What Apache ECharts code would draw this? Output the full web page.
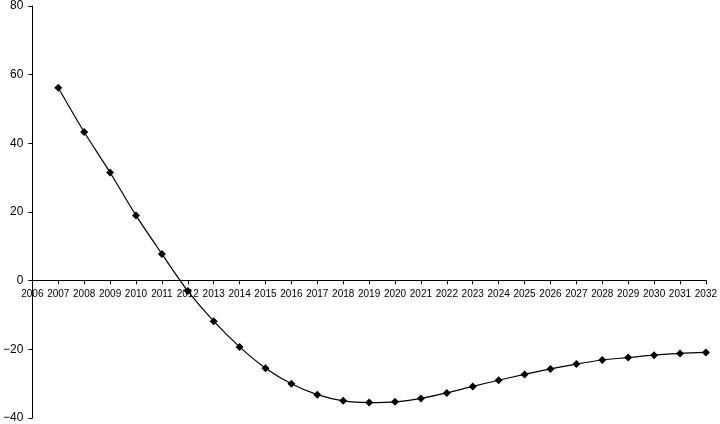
<!DOCTYPE html>
<html><head><meta charset="utf-8">
<script src="https://cdn.jsdelivr.net/npm/echarts@6/dist/echarts.min.js"></script>
<style>html,body{margin:0;padding:0;background:#fff}#c{width:720px;height:424px}</style>
</head><body><div id="c"></div>
<script>
var years = [];
for (var y = 2006; y <= 2032; y++) years.push(String(y));
var values = ['-', 56.2, 43.3, 31.5, 19.0, 7.8, -3.0, -11.8, -19.3, -25.5, -30.0, -33.2, -35.0, -35.5, -35.3, -34.3, -32.7, -30.8, -29.0, -27.3, -25.7, -24.3, -23.1, -22.4, -21.7, -21.2, -20.9];
var yTicks = {min: -40, max: 80, interval: 20};

var gridTop = 5, gridBottom = 6, H = 424;
var plotH = H - gridTop - gridBottom;
var zeroOffset = plotH * (0 - yTicks.min) / (yTicks.max - yTicks.min);

var chart = echarts.init(document.getElementById('c'));
chart.setOption({
  animation: false,
  backgroundColor: '#fff',
  grid: {left: 31, right: 10, top: gridTop, bottom: gridBottom, containLabel: false},
  xAxis: {
    type: 'category', data: years, boundaryGap: false,
    position: 'bottom', offset: -zeroOffset,
    axisLine: {onZero: false, lineStyle: {color: '#000', width: 1}},
    axisTick: {show: true, inside: false, length: 4, lineStyle: {color: '#000'}},
    axisLabel: {color: '#000', fontSize: 10, fontFamily: 'Liberation Sans, Arial, sans-serif', margin: 9, interval: 0},
    splitLine: {show: false}
  },
  yAxis: {
    type: 'value', min: yTicks.min, max: yTicks.max, interval: yTicks.interval,
    axisLine: {show: true, lineStyle: {color: '#000', width: 1}},
    axisTick: {show: true, length: 4, lineStyle: {color: '#000'}},
    axisLabel: {color: '#000', fontSize: 12, fontFamily: 'Liberation Sans, Arial, sans-serif', margin: 9,
      formatter: function(v){ return v < 0 ? '\u2212' + Math.abs(v) : String(v); }},
    splitLine: {show: false}
  },
  series: [{
    type: 'line', data: values, smooth: 0.3,
    symbol: 'diamond', symbolSize: 8,
    itemStyle: {color: '#000'},
    lineStyle: {color: '#000', width: 1.2}
  }]
});
</script></body></html>
